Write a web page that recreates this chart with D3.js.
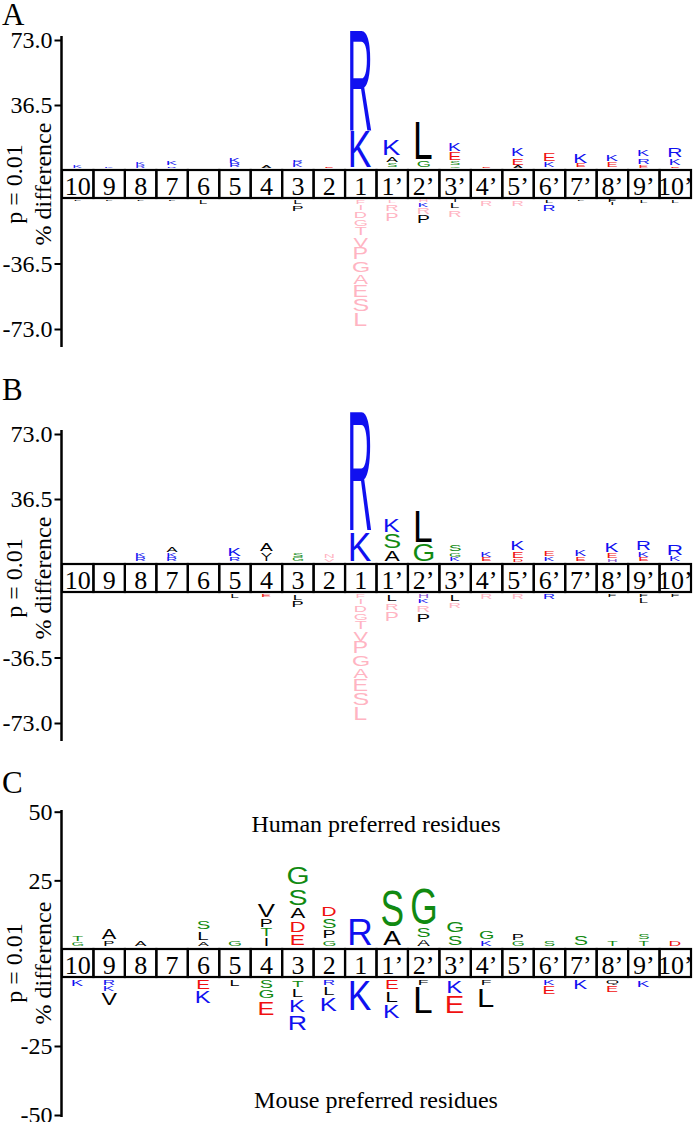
<!DOCTYPE html>
<html>
<head>
<meta charset="utf-8">
<script src="https://cdn.jsdelivr.net/npm/d3@7"></script>
<style>
body { margin: 0; background: #fff; }
svg { display: block; }
</style>
</head>
<body>
<div id="chart"></div>
<script>
// positions round the cleavage site
const positions = ["10","9","8","7","6","5","4","3","2","1","1’","2’","3’","4’","5’","6’","7’","8’","9’","10’"];

// each stack: [residue, % difference, flag]; listed from the box outward
// flag "n" = pale (pink) residue
const aUp = [
  [["K",1.5]], [["K",1.0]], [["R",1.5],["K",1.6]], [["R",1.2],["K",3.2]], [],
  [["R",2.6],["K",3.8]], [["A",2.0]], [["K",2.6],["R",2.0]], [["E",1.0]], [["K",21],["R",58]],
  [["S",2.6],["A",4.0],["K",9.5]], [["G",4.5],["L",22]], [["G",1.2],["S",2.8],["E",5.0],["K",5.0]], [["E",1.0]],
  [["A",1.4],["E",4.6],["K",5.0]], [["K",3.4],["E",5.0]], [["E",2.4],["K",6.0]], [["E",3.4],["K",4.8]],
  [["E",2.0],["R",4.0],["K",4.4]], [["E",1.2],["K",4.2],["R",6.0]]
];
const aDown = [
  [["L",0.8]], [["L",0.8]], [["L",0.6]], [["L",0.6]], [["L",2.4]], [], [], [["L",2.4],["P",4.0]], [],
  [["F",2.6,"n"],["I",3.5,"n"],["D",4.4,"n"],["G",4.4,"n"],["T",5.3,"n"],["V",6.3,"n"],["P",7.2,"n"],
   ["G",7.2,"n"],["A",6.3,"n"],["E",7.2,"n"],["S",8.1,"n"],["L",8.1,"n"]],
  [["L",2.0,"n"],["R",4.6,"n"],["P",5.4,"n"]], [["H",1.4,"n"],["K",2.6],["R",4.6,"n"],["P",5.0]],
  [["I",1.4],["L",3.8],["R",4.8,"n"]], [["R",3.6,"n"]], [["R",3.6,"n"]], [["L",2.2],["R",4.3]],
  [["L",0.6]], [["F",1.4],["I",1.8]], [["L",1.8]], [["L",1.6]]
];

const bUp = [
  [], [], [["R",2.6],["K",3.0]], [["R",2.6],["K",2.6],["A",3.3]], [],
  [["R",3.0],["K",5.5]], [["I",2.4],["V",3.0],["A",5.0]], [["G",2.6],["S",3.1]], [["V",2.2,"n"],["N",2.4,"n"]],
  [["K",17.2],["R",68.3]], [["A",7.0],["S",9.2],["K",8.2]], [["G",10.5],["L",18.3]], [["K",2.6],["G",2.8],["S",5.0]],
  [["E",2.6],["K",3.5]], [["D",2.0],["E",4.2],["K",6.0]], [["K",3.0],["E",3.5]], [["E",2.6],["K",4.4]],
  [["H",2.0],["E",3.3],["K",6.0]], [["E",2.6],["K",3.4],["R",5.8]], [["K",3.6],["R",6.8]]
];
const bDown = [
  [], [], [], [], [], [["L",2.4]], [["E",2.2]], [["L",3.6],["P",4.4]], [],
  [["F",2.6,"n"],["I",3.5,"n"],["D",4.4,"n"],["G",4.4,"n"],["T",5.3,"n"],["V",6.3,"n"],["P",7.2,"n"],
   ["G",7.2,"n"],["A",6.3,"n"],["E",7.2,"n"],["S",8.1,"n"],["L",8.1,"n"]],
  [["L",4.6],["R",4.8,"n"],["P",6.0,"n"]], [["H",2.4],["K",3.2],["R",5.0,"n"],["P",5.6]],
  [["L",4.2],["R",3.8,"n"]], [["R",3.4,"n"]], [["R",3.4,"n"]], [["R",3.4]],
  [], [["F",1.8]], [["F",2.2],["L",3.3]], [["F",1.8]]
];

const cUp = [
  [["G",2.0],["T",2.7]], [["P",2.2],["A",4.6]], [["A",2.6]], [], [["A",2.0],["L",3.9],["S",3.9]],
  [["G",2.8]], [["I",3.4],["T",3.4],["P",3.4],["V",6.3]], [["E",5.0],["D",4.8],["A",4.8],["S",7.4],["G",7.7]],
  [["G",2.8],["P",3.5],["S",4.6],["D",4.3]], [["R",11.0]], [["A",6.6],["S",14.7]], [["A",3.2],["S",4.3],["G",14.4]],
  [["S",4.6],["G",5.2]], [["K",2.6],["G",3.6]], [["G",2.2],["P",2.8]], [["S",2.6]], [["S",4.4]],
  [["T",2.4]], [["T",2.4],["S",2.6]], [["D",2.6]]
];
const cDown = [
  [["K",2.9]], [["R",2.4],["K",2.4],["V",5.2]], [], [], [["E",4.0],["K",5.5]], [["L",2.8]],
  [["S",3.6],["G",4.0],["E",6.1]], [["T",3.2],["L",3.8],["K",5.6],["R",6.6]], [["R",2.4],["L",3.8],["K",6.2]],
  [["K",11.9]], [["E",4.0],["L",5.0],["K",5.9]], [["F",2.6],["L",10.5]], [["K",5.6],["E",7.5]],
  [["F",2.6],["L",8.1]], [], [["K",2.4],["E",3.4]], [["K",4.2]], [["Q",2.4],["E",2.8]], [["K",3.2]], []
];

const abTicksUp = [73, 36.5], abTicksDown = [-36.5, -73];
const cTicksUp = [50, 25], cTicksDown = [-25, -50];

const residueColor = {
  K: "#1010f0", R: "#1010f0", H: "#8a55d0",
  D: "#f01010", E: "#f01010",
  G: "#118a11", S: "#118a11", T: "#118a11"
};
const paleColor = "#ffb4c2";

const W = 693, H = 1122;
const svg = d3.select("#chart").append("svg").attr("width", W).attr("height", H);

const x = d3.scaleBand().domain(positions).range([62, 691]).padding(0);

// measure glyph ink boxes once
const ctx = document.createElement("canvas").getContext("2d");
ctx.font = "100px 'Liberation Sans'";
const ink = {};
function glyph(ch) {
  if (!ink[ch]) {
    const m = ctx.measureText(ch);
    ink[ch] = { l: m.actualBoundingBoxLeft, r: m.actualBoundingBoxRight,
                a: m.actualBoundingBoxAscent, d: m.actualBoundingBoxDescent };
  }
  return ink[ch];
}
const kWidth = glyph("K").l + glyph("K").r;

function drawLetter(g, ch, color, cx, top, h) {
  const gb = glyph(ch);
  const baseW = Math.min(20.5, 7 + 0.6 * h);
  const sx = baseW / kWidth;
  const sy = h / (gb.a + gb.d);
  const w = (gb.l + gb.r) * sx;
  g.append("text")
    .attr("transform", `translate(${cx - w / 2 + gb.l * sx},${top + gb.a * sy}) scale(${sx},${sy})`)
    .attr("font-family", "'Liberation Sans', Arial, sans-serif")
    .attr("font-size", 100)
    .attr("fill", color)
    .text(ch);
}

const panels = [
  { label: "A", up: aUp, down: aDown, max: 73, tUp: abTicksUp, tDown: abTicksDown, fmt: d => d.toFixed(1),
    labelY: 25, boxTop: 170, boxBot: 198, yMaxPx: 40, yMinPx: 329, axis: [36, 347], gapMax: 2 },
  { label: "B", up: bUp, down: bDown, max: 73, tUp: abTicksUp, tDown: abTicksDown, fmt: d => d.toFixed(1),
    labelY: 400, boxTop: 564, boxBot: 592, yMaxPx: 434, yMinPx: 723, axis: [430, 741], gapMax: 2 },
  { label: "C", up: cUp, down: cDown, max: 50, tUp: cTicksUp, tDown: cTicksDown, fmt: d => String(d),
    labelY: 793, boxTop: 949, boxBot: 977, yMaxPx: 811.7, yMinPx: 1115, axis: [810, 1117], gapMax: 4 }
];

panels.forEach(p => {
  const g = svg.append("g");
  const yUp = d3.scaleLinear().domain([0, p.max]).range([p.boxTop, p.yMaxPx]);
  const yDown = d3.scaleLinear().domain([0, -p.max]).range([p.boxBot, p.yMinPx]);

  g.append("text").attr("x", 2).attr("y", p.labelY)
    .attr("font-family", "'Liberation Serif', 'Times New Roman', serif")
    .attr("font-size", 31).text(p.label);

  // axes
  [[yUp, p.tUp], [yDown, p.tDown]].forEach(([sc, tv]) => {
    const ax = g.append("g").attr("transform", "translate(61.5,0)")
      .call(d3.axisLeft(sc).tickValues(tv).tickFormat(p.fmt).tickSize(7).tickPadding(2));
    ax.select(".domain").remove();
    ax.selectAll("line").attr("stroke-width", 2);
    ax.selectAll("text").attr("font-family", "'Liberation Serif', 'Times New Roman', serif")
      .attr("font-size", 24).attr("fill", "#000");
  });
  g.append("line").attr("x1", 61.5).attr("x2", 61.5).attr("y1", p.axis[0]).attr("y2", p.axis[1])
    .attr("stroke", "#000").attr("stroke-width", 2.5);

  // y titles
  const cy = (p.boxTop + p.boxBot) / 2;
  g.append("text").attr("transform", `translate(22,${cy}) rotate(-90)`).attr("text-anchor", "middle")
    .attr("font-family", "'Liberation Serif', 'Times New Roman', serif").attr("font-size", 24)
    .text("p = 0.01");
  g.append("text").attr("transform", `translate(51,${cy}) rotate(-90)`).attr("text-anchor", "middle")
    .attr("font-family", "'Liberation Serif', 'Times New Roman', serif").attr("font-size", 24)
    .text("% difference");

  // position boxes
  g.selectAll(".cell").data(positions).join("rect")
    .attr("x", d => x(d)).attr("y", p.boxTop)
    .attr("width", x.bandwidth()).attr("height", p.boxBot - p.boxTop)
    .attr("fill", "none").attr("stroke", "#000").attr("stroke-width", 2.2);
  g.selectAll(".num").data(positions).join("text")
    .attr("x", d => x(d) + x.bandwidth() / 2).attr("y", p.boxBot - 3.5)
    .attr("text-anchor", "middle")
    .attr("font-family", "'Liberation Serif', 'Times New Roman', serif")
    .attr("font-size", 26).text(d => d);

  // logo stacks
  const colorOf = r => r[2] === "n" ? paleColor : (residueColor[r[0]] || "#000");
  positions.forEach((pos, i) => {
    const cx = x(pos) + x.bandwidth() / 2;
    let cum = 0;
    p.up[i].forEach(r => {
      const y0 = yUp(cum) - 2, y1 = yUp(cum + r[1]) - 2;
      const s = y0 - y1, gap = Math.min(p.gapMax, 0.25 * s);
      drawLetter(g, r[0], colorOf(r), cx, y1 + gap / 2, s - gap);
      cum += r[1];
    });
    cum = 0;
    p.down[i].forEach(r => {
      const y0 = yDown(-cum) + 2, y1 = yDown(-(cum + r[1])) + 2;
      const s = y1 - y0, gap = Math.min(p.gapMax, 0.25 * s);
      drawLetter(g, r[0], colorOf(r), cx, y0 + gap / 2, s - gap);
      cum += r[1];
    });
  });
});

svg.append("text").attr("x", 376).attr("y", 832).attr("text-anchor", "middle")
  .attr("font-family", "'Liberation Serif', 'Times New Roman', serif").attr("font-size", 24)
  .text("Human preferred residues");
svg.append("text").attr("x", 376).attr("y", 1108).attr("text-anchor", "middle")
  .attr("font-family", "'Liberation Serif', 'Times New Roman', serif").attr("font-size", 24)
  .text("Mouse preferred residues");
</script>
</body>
</html>
